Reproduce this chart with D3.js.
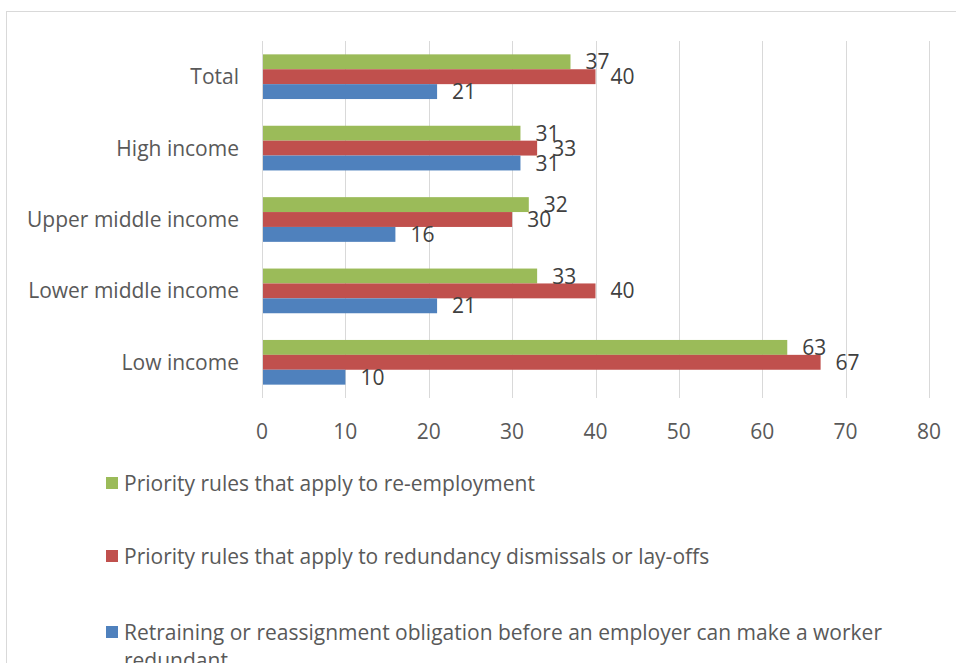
<!DOCTYPE html>
<html lang="en">
  <head>
    <meta charset="UTF-8" />
    <title>priority rules by income group</title>
    <style>
      body {
        margin: 0;
        background: #fff;
        overflow: hidden;
      }
      text {
        font-family: "Open Sans", "Noto Sans", sans-serif;
        font-size: 21px;
      }
      .grid line {
        stroke: #d9d9d9;
        stroke-width: 1;
      }
      .cat { fill: #595959; }
      .tick-label { fill: #595959; }
      .value { fill: #404040; }
      .legend text { fill: #595959; }
    </style>
  </head>
  <body>
    <svg id="chart" width="956" height="663"></svg>
    <script src="https://d3js.org/d3.v7.min.js"></script>
    <script>
      const categories = ["Total", "High income", "Upper middle income", "Lower middle income", "Low income"];
      const seriesNames = [
        "Priority rules that apply to re-employment",
        "Priority rules that apply to redundancy dismissals or lay-offs",
        "Retraining or reassignment obligation before an employer can make a worker redundant"
      ];
      const seriesColors = ["#9bbb59", "#c0504d", "#4f81bd"];
      const reEmployment = [37, 31, 32, 33, 63];
      const dismissals = [40, 33, 30, 40, 67];
      const retraining = [21, 31, 16, 21, 10];
      const xTicks = [0, 10, 20, 30, 40, 50, 60, 70, 80];

      const series = [reEmployment, dismissals, retraining];

      const svg = d3.select("#chart");

      // chart frame (runs off the right and bottom edges like the source)
      svg.append("rect")
        .attr("x", 6.5).attr("y", 11.5)
        .attr("width", 1000).attr("height", 700)
        .attr("fill", "none").attr("stroke", "#d9d9d9");

      const plotLeft = 262, plotRight = 929, plotTop = 41, plotBottom = 398;

      const x = d3.scaleLinear().domain([0, 80]).range([plotLeft, plotRight]);
      const y = d3.scaleBand().domain(categories).range([plotTop, plotBottom])
        .paddingInner(0.374).paddingOuter(0.187);
      const ySub = d3.scaleBand().domain(d3.range(series.length)).range([0, y.bandwidth()]);

      // vertical gridlines
      svg.append("g").attr("class", "grid")
        .selectAll("line")
        .data(xTicks)
        .join("line")
        .attr("x1", d => Math.round(x(d)) + 0.5)
        .attr("x2", d => Math.round(x(d)) + 0.5)
        .attr("y1", plotTop).attr("y2", plotBottom);

      // x tick labels
      svg.append("g")
        .selectAll("text")
        .data(xTicks)
        .join("text")
        .attr("class", "tick-label")
        .attr("x", d => x(d))
        .attr("y", 431)
        .attr("dy", "0.36em")
        .attr("text-anchor", "middle")
        .text(d => d);

      // category labels
      svg.append("g")
        .selectAll("text")
        .data(categories)
        .join("text")
        .attr("class", "cat")
        .attr("x", 239)
        .attr("y", d => y(d) + y.bandwidth() / 2)
        .attr("dy", "0.36em")
        .attr("text-anchor", "end")
        .text(d => d);

      const rows = [];
      series.forEach((vals, s) => {
        vals.forEach((v, i) => rows.push({ s, cat: categories[i], v }));
      });

      svg.append("g")
        .selectAll("rect")
        .data(rows)
        .join("rect")
        .attr("x", x(0) + 1)
        .attr("y", d => y(d.cat) + ySub(d.s))
        .attr("width", d => x(d.v) - x(0) - 1)
        .attr("height", ySub.bandwidth())
        .attr("fill", d => seriesColors[d.s]);

      svg.append("g")
        .selectAll("text")
        .data(rows)
        .join("text")
        .attr("class", "value")
        .attr("x", d => x(d.v) + 15)
        .attr("y", d => y(d.cat) + ySub(d.s) + ySub.bandwidth() / 2)
        .attr("dy", "0.36em")
        .text(d => d.v);

      // legend, one entry per row, wrapping long names
      const legendY = [483, 556, 632];
      const maxW = 770;
      const legend = svg.append("g").attr("class", "legend");
      seriesNames.forEach((name, i) => {
        legend.append("rect")
          .attr("x", 106).attr("y", legendY[i] - 6)
          .attr("width", 12).attr("height", 12)
          .attr("fill", seriesColors[i]);
        const t = legend.append("text")
          .attr("x", 124).attr("y", legendY[i])
          .attr("dy", "0.36em");
        const words = name.split(" ");
        let line = [];
        let tspan = t.append("tspan").attr("x", 124);
        words.forEach(w => {
          line.push(w);
          tspan.text(line.join(" "));
          if (tspan.node().getComputedTextLength() > maxW && line.length > 1) {
            line.pop();
            tspan.text(line.join(" "));
            line = [w];
            tspan = t.append("tspan").attr("x", 124).attr("dy", 28).text(w);
          }
        });
      });
    </script>
  </body>
</html>
